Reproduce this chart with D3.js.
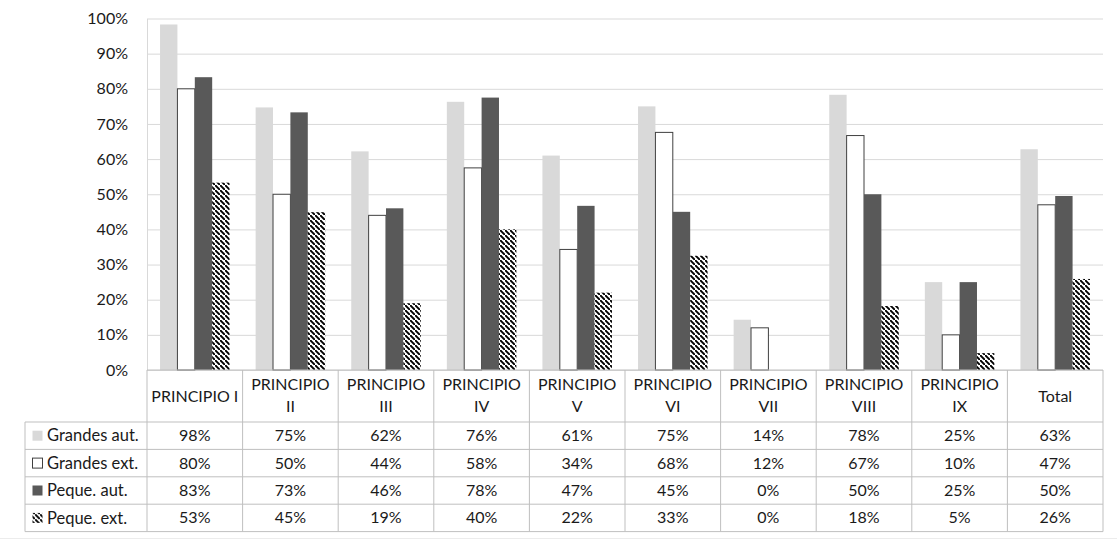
<!DOCTYPE html>
<html>
<head>
<meta charset="utf-8">
<script src="https://cdn.jsdelivr.net/npm/d3@7"></script>
<style>
  body { margin: 0; background: #fff; }
  text { font-family: Lato, "Open Sans", sans-serif; fill: #1a1a1a; }
</style>
</head>
<body>
<svg id="chart" width="1117" height="540"></svg>
<script>
(function() {
  'use strict';

  var categories = ['PRINCIPIO I', 'PRINCIPIO II', 'PRINCIPIO III', 'PRINCIPIO IV', 'PRINCIPIO V',
    'PRINCIPIO VI', 'PRINCIPIO VII', 'PRINCIPIO VIII', 'PRINCIPIO IX', 'Total'];
  var seriesNames = ['Grandes aut.', 'Grandes ext.', 'Peque. aut.', 'Peque. ext.'];
  var grandesAut = [98.3, 74.7, 62.2, 76.3, 61.0, 75.0, 14.3, 78.3, 25.0, 62.8];
  var grandesExt = [80.0, 50.0, 44.0, 57.5, 34.3, 67.6, 12.0, 66.7, 10.0, 47.0];
  var pequeAut = [83.3, 73.3, 46.0, 77.5, 46.7, 45.0, 0, 50.0, 25.0, 49.5];
  var pequeExt = [53.3, 44.9, 19.0, 40.0, 22.0, 32.5, 0, 18.2, 4.8, 25.9];
  var yTicks = [0, 10, 20, 30, 40, 50, 60, 70, 80, 90, 100];

  var values = [grandesAut, grandesExt, pequeAut, pequeExt];

  var left = 147, right = 1103, top = 18.5, base = 370,
    tableLeft = 25, headerBottom = 422, rowH = 27.4;

  var svg = d3.select('#chart');

  // wide downward diagonal hatch
  var defs = svg.append('defs');
  var hatch = defs.append('pattern')
    .attr('id', 'hatch')
    .attr('patternUnits', 'userSpaceOnUse')
    .attr('width', 5)
    .attr('height', 5);
  hatch.append('rect').attr('width', 5).attr('height', 5).attr('fill', '#fff');
  hatch.append('path')
    .attr('d', 'M-1.5,-1.5 l3,3 M0,0 l5,5 M3.5,3.5 l3,3')
    .attr('stroke', '#000')
    .attr('stroke-width', 1.9);

  var fills = ['#d9d9d9', '#ffffff', '#595959', 'url(#hatch)'];
  var strokes = ['none', '#404040', 'none', 'none'];

  var x = d3.scaleBand().domain(categories).range([left, right]);
  var xs = d3.scaleBand().domain(seriesNames).range([0, x.bandwidth()])
    .paddingInner(0).paddingOuter(0.75);
  var y = d3.scaleLinear().domain([0, 100]).range([base, top]);

  // gridlines
  svg.append('g')
    .attr('transform', 'translate(' + left + ',0)')
    .call(d3.axisLeft(y).tickValues(yTicks).tickSize(-(right - left)).tickFormat(''))
    .call(function(g) {
      g.select('.domain').remove();
      g.selectAll('line').attr('stroke', '#d9d9d9');
    });

  // y axis labels
  svg.append('g')
    .attr('transform', 'translate(' + left + ',0)')
    .call(d3.axisLeft(y).tickValues(yTicks).tickSize(0).tickPadding(19)
      .tickFormat(function(d) { return d + '%'; }))
    .call(function(g) {
      g.select('.domain').attr('stroke', '#d9d9d9');
      g.selectAll('text')
        .attr('font-size', 16)
        .style('font-family', 'Lato, sans-serif')
        .attr('fill', '#1a1a1a');
    });

  // bars
  var series = svg.append('g').selectAll('g')
    .data(values)
    .join('g')
    .attr('fill', function(d, i) { return fills[i]; })
    .attr('stroke', function(d, i) { return strokes[i]; });

  series.each(function(vals, si) {
    d3.select(this).selectAll('rect')
      .data(vals.map(function(v, ci) { return { cat: categories[ci], v: v }; }))
      .join('rect')
      .attr('x', function(d) { return x(d.cat) + xs(seriesNames[si]); })
      .attr('y', function(d) { return y(d.v); })
      .attr('width', xs.bandwidth())
      .attr('height', function(d) { return base - y(d.v); })
      .attr('display', function(d) { return d.v > 0 ? null : 'none'; });
  });

  // data table
  var table = svg.append('g').attr('class', 'table');
  var lineColor = '#bfbfbf';
  var rowsBottom = headerBottom + rowH * seriesNames.length;

  table.append('line')
    .attr('x1', left).attr('x2', right).attr('y1', base).attr('y2', base)
    .attr('stroke', lineColor);

  table.selectAll('line.v')
    .data(categories.map(function(c) { return x(c); }).concat([right]))
    .join('line')
    .attr('class', 'v')
    .attr('x1', function(d) { return d; }).attr('x2', function(d) { return d; })
    .attr('y1', base).attr('y2', rowsBottom)
    .attr('stroke', lineColor);

  table.append('line')
    .attr('x1', tableLeft).attr('x2', tableLeft)
    .attr('y1', headerBottom).attr('y2', rowsBottom)
    .attr('stroke', lineColor);

  table.selectAll('line.h')
    .data(d3.range(seriesNames.length + 1))
    .join('line')
    .attr('class', 'h')
    .attr('x1', tableLeft).attr('x2', right)
    .attr('y1', function(i) { return headerBottom + i * rowH; })
    .attr('y2', function(i) { return headerBottom + i * rowH; })
    .attr('stroke', lineColor);

  // category headers, wrapped when too wide for the cell
  var headers = table.selectAll('text.cat')
    .data(categories)
    .join('text')
    .attr('class', 'cat')
    .attr('text-anchor', 'middle')
    .attr('font-size', 16)
    .attr('x', function(d) { return x(d) + x.bandwidth() / 2; })
    .attr('y', (base + headerBottom) / 2)
    .attr('dy', '0.35em')
    .text(function(d) { return d; });

  headers.each(function(d) {
    var t = d3.select(this);
    var words = d.split(' ');
    if (words.length > 1 && this.getComputedTextLength() > x.bandwidth() - 8.5) {
      var cx = t.attr('x');
      t.text(null);
      t.append('tspan').attr('x', cx).attr('dy', '-0.4em').text(words[0]);
      t.append('tspan').attr('x', cx).attr('dy', '1.4em').text(words.slice(1).join(' '));
    }
  });

  // legend keys and row labels
  var rows = table.selectAll('g.row')
    .data(seriesNames)
    .join('g')
    .attr('class', 'row')
    .attr('transform', function(d, i) { return 'translate(0,' + (headerBottom + i * rowH) + ')'; });

  rows.append('rect')
    .attr('x', 32.5).attr('y', rowH / 2 - 5)
    .attr('width', 10).attr('height', 10)
    .attr('fill', function(d, i) { return fills[i]; })
    .attr('stroke', function(d, i) { return strokes[i]; });

  rows.append('text')
    .attr('x', 47)
    .attr('y', rowH / 2)
    .attr('dy', '0.35em')
    .attr('font-size', 16.5)
    .text(function(d) { return d; });

  rows.each(function(name, si) {
    d3.select(this).selectAll('text.val')
      .data(values[si])
      .join('text')
      .attr('class', 'val')
      .attr('text-anchor', 'middle')
      .attr('font-size', 16)
      .attr('x', function(v, ci) { return x(categories[ci]) + x.bandwidth() / 2; })
      .attr('y', rowH / 2)
      .attr('dy', '0.35em')
      .text(function(v) { return Math.round(v) + '%'; });
  });

  // faint frame line at the bottom
  svg.append('line')
    .attr('x1', 0).attr('x2', 1117).attr('y1', 538.5).attr('y2', 538.5)
    .attr('stroke', '#ececec');
}).call(this);
</script>
</body>
</html>
